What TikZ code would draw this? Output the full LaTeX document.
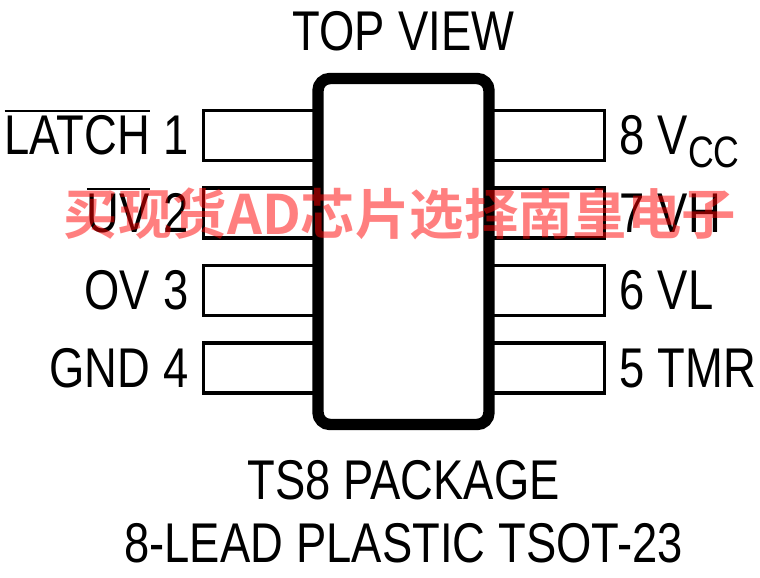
\documentclass[tikz,border=0pt]{standalone}
\usepackage{fontspec}
\setmainfont[FakeStretch=0.81, WordSpace=1.05]{Liberation Sans}
\newfontfamily\cjk{Noto Sans CJK SC Bold}
\usetikzlibrary{positioning}
\newcommand{\barsig}[1]{\vbox{\hrule height 1pt \kern 2pt \hbox{#1}}}
\tikzset{
  pin/.style={draw, line width=1.7pt, minimum width=58.25pt, minimum height=25pt, inner sep=0pt},
  pinlabel/.style={inner xsep=0pt, inner ysep=0pt, text height=19.25pt, text depth=0pt, font=\fontsize{28}{30}\selectfont},
  title/.style={inner sep=0pt, anchor=base, font=\fontsize{28}{30}\selectfont}
}
\begin{document}
\begin{tikzpicture}[x=0.5pt, y=0.5pt]
\useasboundingbox (0,0) rectangle (760,-578);
%left pins
\node[pin](pin1) at (261.75,-135.5){};
\node[pin](pin2) at (261.75,-213){};
\node[pin](pin3) at (261.75,-290.5){};
\node[pin](pin4) at (261.75,-368){};
%right pins
\node[pin](pin8) at (546,-135.5){};
\node[pin](pin7) at (546,-213){};
\node[pin](pin6) at (546,-290.5){};
\node[pin](pin5) at (546,-368){};
%body
\node[draw, line width=5.7pt, rounded corners=6pt, fill=white, minimum width=85.5pt, minimum height=173pt, inner sep=0pt](body) at (403.5,-251.5){};
%labels
\node[pinlabel, left=6.5pt of pin1](lab1){\barsig{LATCH} 1};
\node[pinlabel, left=6.5pt of pin2](lab2){\barsig{UV} 2};
\node[pinlabel, left=6.5pt of pin3](lab3){OV 3};
\node[pinlabel, left=6.5pt of pin4](lab4){GND 4};
\node[pinlabel, right=6.5pt of pin8](lab8){8 V\raisebox{-6.5pt}{\fontsize{22}{22}\selectfont CC}};
\node[pinlabel, right=6.5pt of pin7](lab7){7 VH};
\node[pinlabel, right=6.5pt of pin6](lab6){6 VL};
\node[pinlabel, right=6.5pt of pin5](lab5){5 TMR};
%titles
\node[title](top) at (403.5,-50){TOP VIEW};
\node[title](pkg) at (403.5,-499){TS8 PACKAGE};
\node[title](lead) at (403.5,-562){8-LEAD PLASTIC TSOT-23};
%watermark
\node[text=red, text opacity=0.5, inner sep=0pt, font=\fontsize{27.2}{28}\cjk](mark) at (400,-214){买现货AD芯片选择南皇电子};
\end{tikzpicture}
\end{document}
